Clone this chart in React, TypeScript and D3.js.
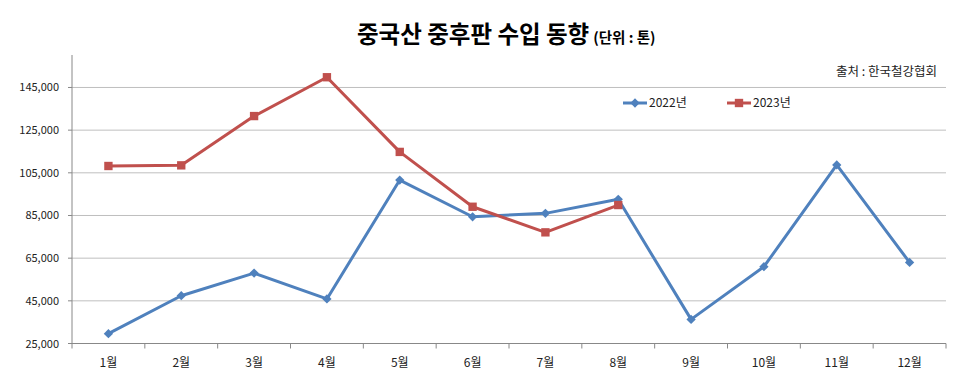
import React from "react";
import * as d3 from "d3";

const months = ["1월", "2월", "3월", "4월", "5월", "6월", "7월", "8월", "9월", "10월", "11월", "12월"];
const data2022 = [29600, 47400, 58000, 45900, 101600, 84400, 86000, 92600, 36300, 61000, 108700, 63000];
const data2023 = [108200, 108500, 131600, 149800, 114800, 89100, 77100, 89900];
const yTicks = [25000, 45000, 65000, 85000, 105000, 125000, 145000];
const seriesNames = ["2022년", "2023년"];
const seriesColors = ["#4F81BD", "#C0504D"];

const W = 960, H = 378;
const left = 72, right = 946, top = 55, bottom = 343.5;
const FONT = "'Noto Sans CJK KR', 'Noto Sans', sans-serif";

export default function App() {
  const x = d3.scaleBand<string>().domain(months).range([left, right]);
  const y = d3.scaleLinear().domain([25000, 25000 + (bottom - top) / 42.67 * 20000]).range([bottom, top]);
  const cx = (i: number) => (x(months[i]) as number) + x.bandwidth() / 2;
  const line = d3.line<number>().x((_, i) => cx(i)).y((d) => y(d));
  const diamond = d3.symbol().type(d3.symbolDiamond2).size(55)() as string;
  const square = d3.symbol().type(d3.symbolSquare).size(70)() as string;
  const bounds = [left, ...months.map((m) => (x(m) as number) + x.bandwidth())];
  return (
    <svg width={W} height={H} style={{ position: "absolute", left: 0, top: 0, background: "#fff" }}>
      <text x={357} y={43} fontFamily={FONT} fontWeight="bold" fontSize={23.5} fill="#000">
        중국산 중후판 수입 동향
        <tspan fontSize={14.5} dx={4}>(단위 : 톤)</tspan>
      </text>
      <text x={937} y={76} textAnchor="end" fontFamily={FONT} fontSize={12.5} fill="#222">출처 : 한국철강협회</text>
      {yTicks.slice(1).map((t) => (
        <line key={t} x1={left} x2={right} y1={y(t)} y2={y(t)} stroke="#BFBFBF" strokeWidth={1} />
      ))}
      {yTicks.map((t) => (
        <g key={"l" + t}>
          <line x1={left - 4} x2={left} y1={y(t)} y2={y(t)} stroke="#888" />
          <text x={59} y={y(t) + 4} textAnchor="end" fontFamily={FONT} fontSize={11} fill="#222">{d3.format(",")(t)}</text>
        </g>
      ))}
      <line x1={left} x2={left} y1={top} y2={bottom} stroke="#888" />
      <line x1={left} x2={right} y1={bottom} y2={bottom} stroke="#888" />
      {bounds.map((b, i) => (
        <line key={"t" + i} x1={b} x2={b} y1={bottom} y2={bottom + 5} stroke="#888" />
      ))}
      {months.map((m, i) => (
        <text key={m} x={cx(i)} y={367} textAnchor="middle" fontFamily={FONT} fontSize={12} fill="#222">{m}</text>
      ))}
      {[data2022, data2023].map((ds, k) => (
        <g key={k}>
          <path d={line(ds) as string} fill="none" stroke={seriesColors[k]} strokeWidth={3} strokeLinejoin="round" />
          {ds.map((v, i) => (
            <path key={i} d={k === 0 ? diamond : square} transform={`translate(${cx(i)},${y(v)})`} fill={seriesColors[k]} />
          ))}
        </g>
      ))}
      {seriesNames.map((n, k) => {
        const lx = k === 0 ? 623 : 727;
        return (
          <g key={n}>
            <line x1={lx} x2={lx + 24} y1={103} y2={103} stroke={seriesColors[k]} strokeWidth={3} />
            <path d={k === 0 ? diamond : square} transform={`translate(${lx + 12},103)`} fill={seriesColors[k]} />
            <text x={lx + 26} y={107} fontFamily={FONT} fontSize={12} fill="#222">{n}</text>
          </g>
        );
      })}
    </svg>
  );
}
